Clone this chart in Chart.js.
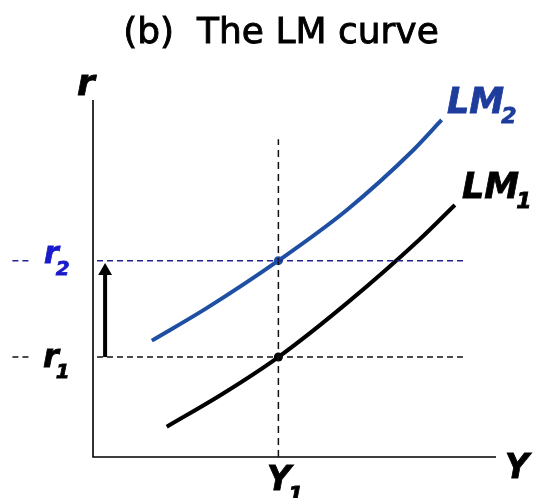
<!DOCTYPE html>
<html>
<head>
<meta charset="utf-8">
<script src="https://cdn.jsdelivr.net/npm/chart.js@4"></script>
<style>
html,body{margin:0;padding:0;background:#fff;}
#wrap{position:relative;width:545px;height:498px;}
</style>
</head>
<body>
<div id="wrap"><canvas id="c" width="545" height="498"></canvas></div>
<script>
// ---- data (diagram units: Y and r run 0..100 along the axes) ----
const axisMax = 100;
const Y1 = 46;
const r1 = 28;
const r2 = 55;
const lm1Y = [18.3, 32.3, 46, 63.0, 81.1, 89.8];
const lm1R = [8.5, 17.8, 28, 43.1, 61.0, 70.6];
const lm2Y = [14.6, 28.2, 46, 63.0, 79.5, 86.5];
const lm2R = [32.6, 41.7, 55, 69.2, 86.0, 94.4];
const guideTopR = 89;      // top of vertical dashed guide
const guideLeftY = -20;    // left end of horizontal dashed guides
const guideRightY = 92;    // right end of horizontal dashed guides
const labelGapFrom = -15.6, labelGapTo = 1;
const arrowY = 3;          // position of the shift arrow along Y
const arrowTopR = 52.1;

const pts = (xs, ys) => xs.map((x, i) => ({x: x, y: ys[i]}));

const BLUE_LINE = '#1f4fa3';
const BLUE_TEXT = '#1e3c9c';
const BLUE_R = '#1a1acc';
const NAVY_DASH = '#23238f';

const labelPlugin = {
  id: 'labels',
  afterDraw(chart) {
    const ctx = chart.ctx;
    const fam = '"DejaVu Sans", Verdana, sans-serif';
    ctx.save();
    ctx.textBaseline = 'alphabetic';
    // title
    ctx.fillStyle = '#000';
    ctx.strokeStyle = '#000';
    ctx.lineWidth = 0.9;
    ctx.textAlign = 'center';
    ctx.font = '36px ' + fam;
    ctx.fillText('(b)  The LM curve', 281, 43);
    ctx.strokeText('(b)  The LM curve', 281, 43);
    ctx.textAlign = 'left';
    const t = (s, x, y, size, col, sub, subSize, subDy) => {
      ctx.font = 'italic bold ' + size + 'px ' + fam;
      ctx.fillStyle = col;
      ctx.strokeStyle = col;
      ctx.lineWidth = 0.8;
      ctx.fillText(s, x, y);
      ctx.strokeText(s, x, y);
      if (sub) {
        const w = ctx.measureText(s).width;
        ctx.font = 'italic bold ' + subSize + 'px ' + fam;
        ctx.fillText(sub, x + w - 3, y + subDy);
        ctx.strokeText(sub, x + w - 3, y + subDy);
      }
    };
    // axis names
    t('r', 77, 95, 36, '#000');
    t('Y', 505, 478, 33, '#000');
    // Y1
    t('Y', 267, 490, 33, '#000', '1', 22, 12);
    // r2, r1
    t('r', 44, 263, 30, BLUE_R, '2', 20, 12);
    t('r', 43, 367, 32, '#000', '1', 20, 11);
    // LM labels
    t('LM', 447, 113, 35, BLUE_TEXT, '2', 22, 10);
    t('LM', 462, 198, 35, '#000', '1', 22, 10);
    ctx.restore();
  }
};

new Chart(document.getElementById('c'), {
  type: 'scatter',
  data: {
    datasets: [
      { // r2 guide
        data: [{x: guideLeftY, y: r2}, {x: labelGapFrom, y: r2}, {x: labelGapFrom, y: null}, {x: labelGapTo, y: r2}, {x: guideRightY, y: r2}],
        showLine: true, spanGaps: false, borderColor: NAVY_DASH, borderWidth: 1.5,
        borderDash: [6, 4], pointRadius: 0
      },
      { // r1 guide
        data: [{x: guideLeftY, y: r1}, {x: labelGapFrom, y: r1}, {x: labelGapFrom, y: null}, {x: labelGapTo, y: r1}, {x: guideRightY, y: r1}],
        showLine: true, spanGaps: false, borderColor: '#111', borderWidth: 1.5,
        borderDash: [6, 4], pointRadius: 0
      },
      { // Y1 guide
        data: [{x: Y1, y: 0}, {x: Y1, y: guideTopR}],
        showLine: true, borderColor: '#111', borderWidth: 1.5,
        borderDash: [7, 5], pointRadius: 0
      },
      { // axes
        data: [{x: 0, y: axisMax}, {x: 0, y: 0}, {x: axisMax, y: 0}],
        showLine: true, borderColor: '#000', borderWidth: 1.6, pointRadius: 0
      },
      { // LM1
        data: pts(lm1Y, lm1R),
        showLine: true, borderColor: '#000', borderWidth: 4, pointRadius: 0,
        cubicInterpolationMode: 'monotone', borderCapStyle: 'butt'
      },
      { // LM2
        data: pts(lm2Y, lm2R),
        showLine: true, borderColor: BLUE_LINE, borderWidth: 4, pointRadius: 0,
        cubicInterpolationMode: 'monotone', borderCapStyle: 'butt'
      },
      { // intersection dots
        data: [{x: Y1, y: r2}],
        pointRadius: 4.5, pointBackgroundColor: BLUE_LINE, pointBorderWidth: 0, showLine: false
      },
      {
        data: [{x: Y1, y: r1}],
        pointRadius: 4.5, pointBackgroundColor: '#000', pointBorderWidth: 0, showLine: false
      },
      { // arrow
        data: [{x: arrowY, y: r1}, {x: arrowY, y: arrowTopR}],
        showLine: true, borderColor: '#000', borderWidth: 4,
        pointRadius: [0, 8], pointStyle: 'triangle',
        pointBackgroundColor: '#000', pointBorderWidth: 0
      }
    ]
  },
  options: {
    responsive: false,
    animation: false,
    devicePixelRatio: 1,
    layout: { padding: 0, autoPadding: false },
    plugins: { legend: { display: false }, tooltip: { enabled: false }, title: { display: false } },
    scales: {
      x: { type: 'linear', display: false, min: -23.08, max: 112.16 },
      y: { type: 'linear', display: false, min: -11.48, max: 128.01 }
    },
    elements: { line: { tension: 0 } }
  },
  plugins: [labelPlugin]
});
</script>
</body>
</html>
